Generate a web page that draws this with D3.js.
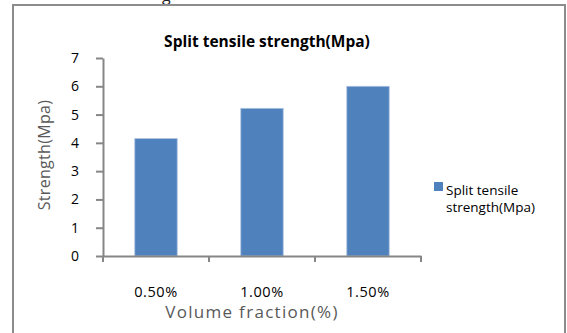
<!DOCTYPE html>
<html><head><meta charset="utf-8">
<script src="https://cdn.jsdelivr.net/npm/d3@7"></script>
<style>body{margin:0;background:#fff}svg{display:block}</style>
</head><body>
<script>
const categories = ["0.50%", "1.00%", "1.50%"];
const values = [4.15, 5.22, 6.0];
const yTicks = [0, 1, 2, 3, 4, 5, 6, 7];
const seriesName = "Split tensile strength(Mpa)";
const legendLines = ["Split tensile", "strength(Mpa)"];

const W = 567, H = 333;
const svg = d3.select("body").append("svg").attr("width", W).attr("height", H);
const font = "'Open Sans', 'DejaVu Sans', sans-serif";

// fragment of text above the chart
svg.append("text").attr("x", 162).attr("y", 1).attr("font-family", font)
  .attr("font-size", 16).attr("fill", "#222").text("g");

// chart border
svg.append("rect").attr("x", 13).attr("y", 5).attr("width", 552).attr("height", 340)
  .attr("fill", "#fff").attr("stroke", "#8c8c8c").attr("stroke-width", 2);

const x = d3.scaleBand().domain(categories).range([103, 421]).paddingInner(0.6).paddingOuter(0.3);
const y = d3.scaleLinear().domain([0, 7]).range([256, 58]);

// title
svg.append("text").attr("x", 267).attr("y", 47).attr("text-anchor", "middle")
  .attr("font-family", font).attr("font-weight", "bold").attr("font-size", 15.5)
  .attr("fill", "#000").text(seriesName);

// bars
svg.selectAll("rect.bar").data(values).enter().append("rect").attr("class", "bar")
  .attr("x", (d, i) => x(categories[i])).attr("width", x.bandwidth())
  .attr("y", d => y(d)).attr("height", d => y(0) - y(d))
  .attr("fill", "#4f81bd").attr("stroke", "#a9c1e0").attr("stroke-width", 0.8);

// y axis
const ya = svg.append("g").attr("transform", "translate(103,0)")
  .call(d3.axisLeft(y).tickValues(yTicks).tickFormat(d3.format("d")).tickSize(7).tickPadding(17).tickSizeOuter(0));
ya.select(".domain").attr("stroke", "#868686").attr("stroke-width", 2);
ya.selectAll(".tick line").attr("stroke", "#868686").attr("stroke-width", 2);
ya.selectAll(".tick text").attr("font-family", font).attr("font-size", 14).attr("fill", "#000");

// x axis
const xa = svg.append("g").attr("transform", "translate(0,256)")
  .call(d3.axisBottom(x).tickSize(0).tickPadding(31));
xa.select(".domain").attr("stroke", "#868686").attr("stroke-width", 2);
xa.selectAll(".tick text").attr("font-family", font).attr("font-size", 14.5)
  .attr("letter-spacing", 0.6).attr("fill", "#000");
// category boundary ticks
const bounds = d3.range(categories.length + 1).map(i => 103 + i * (318 / categories.length));
xa.selectAll("line.bt").data(bounds).enter().append("line").attr("class", "bt")
  .attr("x1", d => d).attr("x2", d => d).attr("y1", 0).attr("y2", 6)
  .attr("stroke", "#868686").attr("stroke-width", 2);

// axis titles
svg.append("text").attr("transform", "translate(50,155) rotate(-90)").attr("text-anchor", "middle")
  .attr("font-family", font).attr("font-size", 16).attr("letter-spacing", 0.3)
  .attr("fill", "#595959").text("Strength(Mpa)");
svg.append("text").attr("x", 252).attr("y", 318).attr("text-anchor", "middle")
  .attr("font-family", font).attr("font-size", 17).attr("letter-spacing", 1.3)
  .attr("fill", "#595959").text("Volume fraction(%)");

// legend
svg.append("rect").attr("x", 434).attr("y", 182).attr("width", 9).attr("height", 9).attr("fill", "#4f81bd");
svg.append("text").attr("font-family", font).attr("font-size", 13.5).attr("fill", "#000")
  .selectAll("tspan").data(legendLines).enter().append("tspan")
  .attr("x", 446).attr("y", (d, i) => 195 + i * 17).text(d => d);
</script>
</body></html>
